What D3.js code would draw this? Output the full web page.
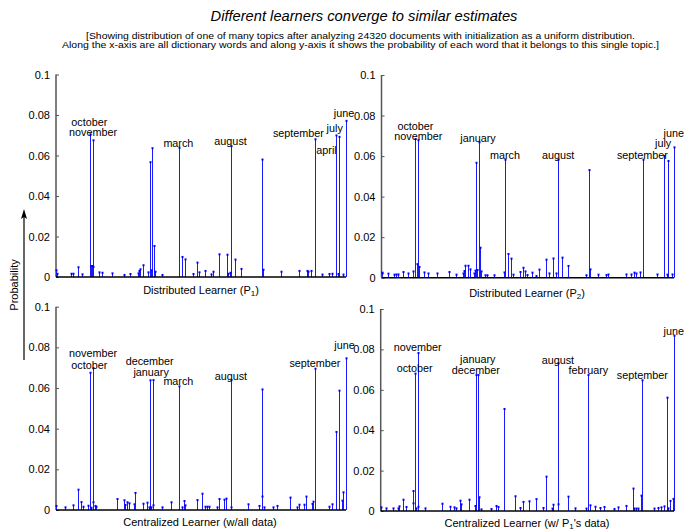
<!DOCTYPE html>
<html><head><meta charset="utf-8">
<script src="https://cdn.jsdelivr.net/npm/d3@7"></script>
<style>
body{margin:0;background:#fff;}
text{font-family:"Liberation Sans",Arial,sans-serif;fill:#000;}
</style></head>
<body><svg id="c" width="688" height="529"></svg>
<script>
// ---- data: word index (dictionary position) and probability ----
const p1Words = [0,3,51,57,75,90,117,119,121,124,126,129,147,160,193,233,255,282,286,290,299,318,323,327,332,337,341,367,423,434,445,474,485,492,514,533,540,561,588,593,599,602,617,637,709,713,776,837,864,869,880,893,918,940,952,964,971,976,990,999];
const p1Probs = [0.0033,0.0016,0.0016,0.0016,0.0048,0.0013,0.0705,0.0054,0.0054,0.0054,0.0050,0.0675,0.0023,0.0021,0.0018,0.0010,0.0015,0.0018,0.0030,0.0038,0.0058,0.0023,0.0567,0.0033,0.0636,0.0153,0.0026,0.0010,0.0638,0.0099,0.0087,0.0015,0.0071,0.0023,0.0030,0.0013,0.0026,0.0112,0.0110,0.0016,0.0021,0.0646,0.0086,0.0040,0.0580,0.0036,0.0026,0.0030,0.0030,0.0026,0.0030,0.0680,0.0012,0.0015,0.0016,0.0699,0.0015,0.0692,0.0012,0.0771];

const p2Words = [0,3,22,42,49,57,74,89,108,116,121,126,129,145,158,191,231,255,279,282,287,297,302,315,320,323,327,333,336,341,353,362,384,420,423,434,444,450,473,485,491,499,513,528,540,562,574,588,596,604,616,638,698,708,713,741,769,776,837,852,862,871,883,893,943,966,975,978,992,1000];
const p2Probs = [0.0025,0.0021,0.0020,0.0015,0.0016,0.0016,0.0028,0.0021,0.0031,0.0684,0.0067,0.0678,0.0053,0.0026,0.0021,0.0021,0.0028,0.0015,0.0021,0.0033,0.0059,0.0059,0.0041,0.0021,0.0035,0.0567,0.0038,0.0668,0.0148,0.0031,0.0012,0.0012,0.0012,0.0026,0.0582,0.0117,0.0094,0.0015,0.0028,0.0049,0.0031,0.0013,0.0025,0.0008,0.0040,0.0089,0.0021,0.0095,0.0021,0.0582,0.0099,0.0058,0.0012,0.0531,0.0041,0.0015,0.0013,0.0016,0.0016,0.0016,0.0025,0.0021,0.0026,0.0582,0.0016,0.0600,0.0015,0.0576,0.0016,0.0643];

const allWords = [0,30,59,75,87,92,110,117,120,128,129,133,139,211,234,237,246,252,270,274,299,314,319,323,326,333,336,367,396,423,435,440,445,486,504,514,522,528,555,563,579,587,603,605,662,701,710,712,716,747,762,808,832,839,856,861,883,887,894,942,953,965,977,985,988,1000];
const allProbs = [0.0020,0.0013,0.0023,0.0100,0.0039,0.0016,0.0021,0.0675,0.0011,0.0038,0.0697,0.0020,0.0016,0.0054,0.0048,0.0025,0.0038,0.0033,0.0028,0.0084,0.0031,0.0036,0.0013,0.0638,0.0013,0.0639,0.0023,0.0013,0.0038,0.0608,0.0013,0.0044,0.0023,0.0049,0.0080,0.0016,0.0016,0.0016,0.0013,0.0054,0.0051,0.0056,0.0639,0.0013,0.0028,0.0020,0.0593,0.0066,0.0013,0.0013,0.0020,0.0061,0.0013,0.0026,0.0026,0.0066,0.0030,0.0041,0.0695,0.0016,0.0028,0.0384,0.0587,0.0046,0.0087,0.0746];

const cp1Words = [0,18,41,59,64,75,86,109,111,116,121,126,127,151,210,235,251,258,269,274,300,320,324,331,335,341,376,394,400,422,457,474,485,504,529,555,563,585,589,604,605,637,662,701,708,712,730,747,763,797,808,837,859,864,871,877,888,892,931,946,955,966,977,980,988,998,1000];
const cp1Probs = [0.0018,0.0013,0.0013,0.0013,0.0023,0.0056,0.0020,0.0099,0.0038,0.0680,0.0013,0.0021,0.0782,0.0013,0.0036,0.0021,0.0018,0.0013,0.0051,0.0033,0.0056,0.0025,0.0673,0.0673,0.0068,0.0008,0.0010,0.0025,0.0020,0.0505,0.0073,0.0015,0.0045,0.0048,0.0059,0.0015,0.0170,0.0012,0.0031,0.0033,0.0731,0.0071,0.0013,0.0012,0.0673,0.0028,0.0021,0.0015,0.0020,0.0010,0.0018,0.0025,0.0111,0.0012,0.0012,0.0012,0.0076,0.0647,0.0012,0.0015,0.0018,0.0023,0.0561,0.0013,0.0050,0.0060,0.0868];

// annotation labels: word, word index, probability at label centre
const p1Labels = [["october",115,0.0767],["november",128,0.0716],["march",422,0.0664],["august",602,0.0673],["september",836,0.0713],["july",961,0.0734],["april",933,0.0629],["june",993,0.0809]];
const p2Labels = [["october",116,0.0747],["november",126,0.0699],["january",330,0.0691],["march",422,0.0607],["august",604,0.0607],["september",892,0.0607],["july",963,0.0663],["june",999,0.0714]];
const allLabels = [["november",128,0.0773],["october",115,0.0711],["december",323,0.0731],["january",328,0.0678],["march",422,0.0635],["august",603,0.0661],["september",893,0.0722],["june",995,0.0813]];
const cp1Labels = [["november",126,0.0810],["october",116,0.0709],["january",331,0.0753],["december",324,0.0700],["august",604,0.0749],["february",708,0.0700],["september",892,0.0675],["june",999,0.0893]];

const yTicks = [0,0.02,0.04,0.06,0.08,0.1];
const yTickLabels = ["0","0.02","0.04","0.06","0.08","0.1"];
const wordDomain = [0,1000];
const probDomain = [0,0.1];

const titleText = "Different learners converge to similar estimates";
const subLine1 = "[Showing distribution of one of many topics after analyzing 24320 documents with initialization as a uniform distribution.";
const subLine2 = "Along the x-axis are all dictionary words and along y-axis it shows the probability of each word that it belongs to this single topic.]";
const yLabelText = "Probability";

// ---- drawing ----
const svg = d3.select("#c");

const panels = [
  {words:p1Words, probs:p1Probs, labels:p1Labels, x:[56,346], y:[277,74.5], xl:["Distributed Learner (P","1",")"], xly:289.5, xlx:201},
  {words:p2Words, probs:p2Probs, labels:p2Labels, x:[381.5,674], y:[277.7,75], xl:["Distributed Learner (P","2",")"], xly:293, xlx:527},
  {words:allWords, probs:allProbs, labels:allLabels, x:[56,346], y:[510,306.7], xl:["Centralized Learner (w/all data)","",""], xly:521.5, xlx:200},
  {words:cp1Words, probs:cp1Probs, labels:cp1Labels, x:[380.7,674], y:[511,309], xl:["Centralized Learner (w/ P","1","'s data)"], xly:523, xlx:527}
];

panels.forEach(p => {
  const xs = d3.scaleLinear().domain(wordDomain).range(p.x);
  const ys = d3.scaleLinear().domain(probDomain).range(p.y);
  const g = svg.append("g");

  // y axis
  const ax = d3.axisLeft(ys).tickValues(yTicks).tickFormat((d,i)=>yTickLabels[i]).tickSize(-3).tickPadding(6);
  const ag = g.append("g").attr("transform",`translate(${p.x[0]},0)`).call(ax);
  ag.select(".domain").attr("stroke","#555").attr("stroke-width",1.5).attr("d",`M0,${p.y[0]}V${p.y[1]}`);
  ag.selectAll(".tick line").attr("stroke","#555").attr("stroke-width",1);
  ag.selectAll(".tick text").attr("font-size",11).attr("font-family","Liberation Sans, Arial, sans-serif").attr("fill","#111");

  const data = p.words.map((w,i)=>({w, v:p.probs[i]}));
  // stems
  g.selectAll("line.stem").data(data).enter().append("line")
    .attr("class","stem")
    .attr("x1",d=>Math.round(xs(d.w))+0.5).attr("x2",d=>Math.round(xs(d.w))+0.5)
    .attr("y1",ys(0)).attr("y2",d=>ys(d.v))
    .attr("stroke","#1a1aff").attr("stroke-width",1);
  g.selectAll("rect.mk").data(data).enter().append("rect")
    .attr("class","mk")
    .attr("x",d=>Math.round(xs(d.w))-0.5).attr("y",d=>ys(d.v)-1)
    .attr("width",2).attr("height",2).attr("fill","#0000ff");

  // baseline
  g.append("line").attr("x1",p.x[0]).attr("x2",p.x[1]).attr("y1",ys(0)).attr("y2",ys(0))
    .attr("stroke","#000").attr("stroke-width",1.5);

  // word labels
  g.selectAll("text.lbl").data(p.labels).enter().append("text")
    .attr("class","lbl")
    .attr("x",d=>xs(d[1])).attr("y",d=>ys(d[2]))
    .attr("text-anchor","middle").attr("dominant-baseline","central")
    .attr("font-size",10.8).text(d=>d[0]);

  // x label
  const t = g.append("text").attr("x",p.xlx).attr("y",p.xly).attr("text-anchor","middle")
    .attr("dominant-baseline","central").attr("font-size",11);
  t.append("tspan").text(p.xl[0]);
  if (p.xl[1]) {
    t.append("tspan").attr("font-size",8).attr("dy",3).text(p.xl[1]);
    t.append("tspan").attr("dy",-3).text(p.xl[2]);
  }
});

// titles
svg.append("text").attr("x",364).attr("y",16).attr("text-anchor","middle").attr("dominant-baseline","central")
  .attr("font-size",14.7).attr("font-style","italic").text(titleText);
svg.append("text").attr("x",360.5).attr("y",35).attr("text-anchor","middle").attr("dominant-baseline","central")
  .attr("font-size",9.4).attr("textLength",549).attr("lengthAdjust","spacingAndGlyphs").text(subLine1);
svg.append("text").attr("x",360.5).attr("y",44.5).attr("text-anchor","middle").attr("dominant-baseline","central")
  .attr("font-size",9.4).attr("textLength",597).attr("lengthAdjust","spacingAndGlyphs").text(subLine2);

// y label with arrow
svg.append("text").attr("transform","translate(13.5,285) rotate(-90)").attr("text-anchor","middle")
  .attr("dominant-baseline","central").attr("font-size",11).text(yLabelText);
svg.append("line").attr("x1",24).attr("x2",24).attr("y1",360).attr("y2",214).attr("stroke","#000").attr("stroke-width",1.2);
svg.append("path").attr("d","M24,209 L21,219 L24,217 L27,219 Z").attr("fill","#000");
</script></body></html>
